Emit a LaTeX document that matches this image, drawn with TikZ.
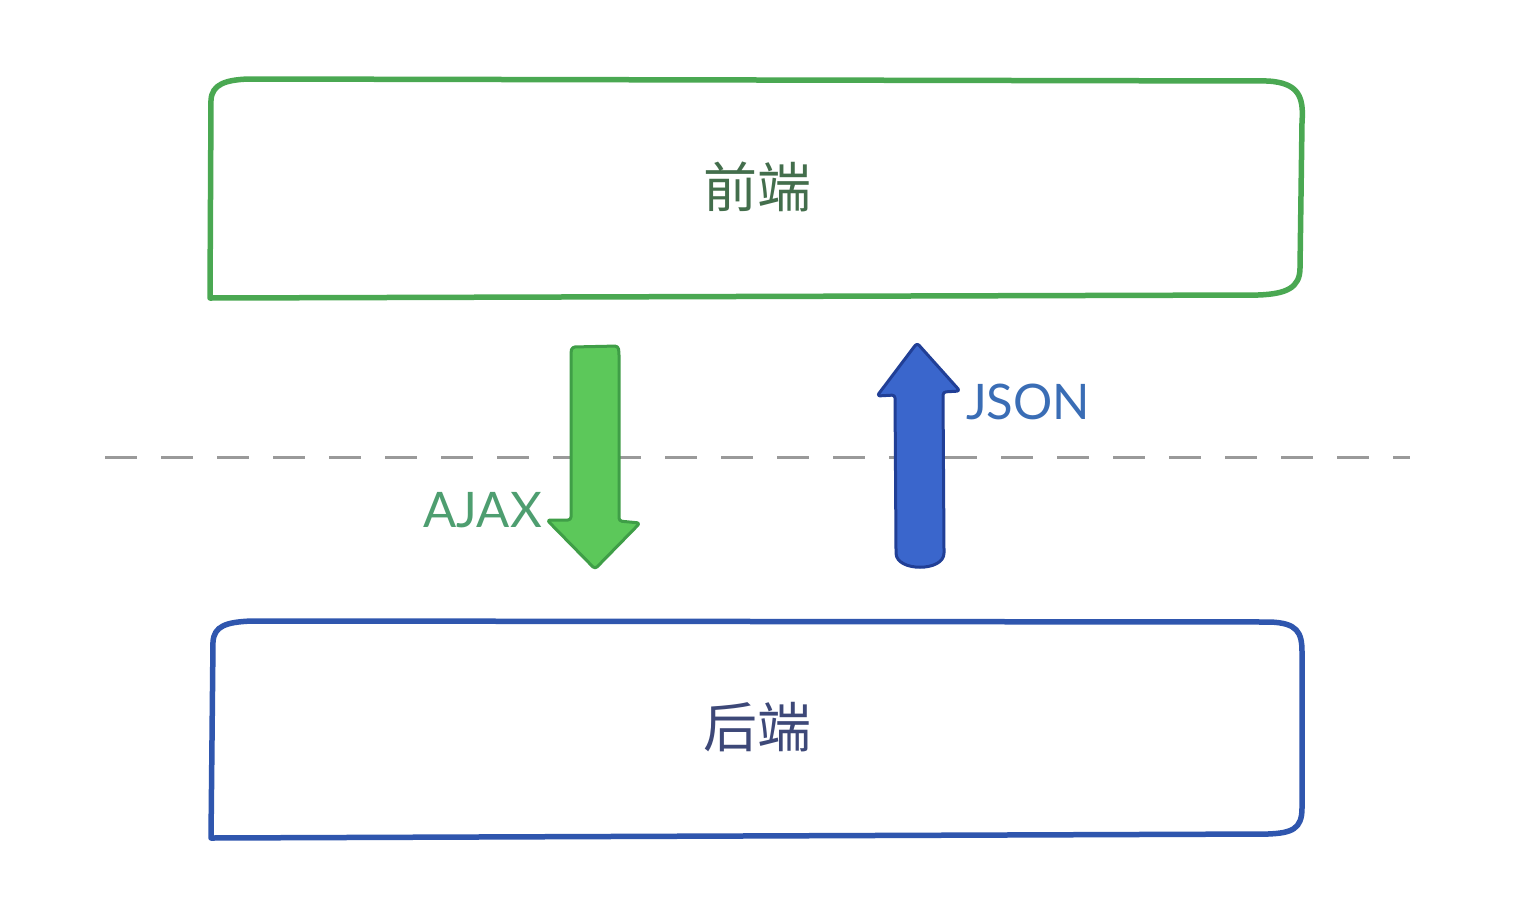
\documentclass[tikz,border=0pt]{standalone}
\usepackage{fontspec}
\newfontfamily\cjk{Noto Sans CJK SC}
\newfontfamily\latinlab{Lato}
\definecolor{gline}{HTML}{4AA852}
\definecolor{gfill}{HTML}{5CC85A}
\definecolor{gedge}{HTML}{3F9E47}
\definecolor{gtext}{HTML}{436E4C}
\definecolor{bline}{HTML}{2F56AE}
\definecolor{bfill}{HTML}{3A66CC}
\definecolor{bedge}{HTML}{213F96}
\definecolor{btext}{HTML}{3D4878}
\definecolor{ajaxc}{HTML}{4E9E70}
\definecolor{jsonc}{HTML}{3A6DB5}
\definecolor{dashc}{HTML}{9A9A9A}
\tikzset{
  boxline/.style={line width=5.5pt, line join=round},
  boxtext/.style={font=\cjk\fontsize{54}{60}\selectfont, inner sep=0pt},
  labtext/.style={font=\latinlab\fontsize{49}{54}\selectfont, inner sep=0pt},
  fatarrow/.style={line width=3pt, line join=round, rounded corners=3pt},
  divider/.style={dashc, line width=3pt, dash pattern=on 32pt off 24pt}
}
\begin{document}
\begin{tikzpicture}[x=1pt,y=-1pt]
\useasboundingbox[fill=white] (0,0) rectangle (1536,916);
% front-end box
\draw[boxline, gline] (210,298) -- (211,100) .. controls (212,84) and (226,80) .. (248,79)
  -- (1268,81) .. controls (1298,83) and (1304,96) .. (1302,122)
  -- (1300,268) .. controls (1300,288) and (1286,294) .. (1258,295) -- cycle;
\node[boxtext, text=gtext] (front) at (757,187) {前端};
% back-end box
\draw[boxline, bline] (211,838) -- (213,642) .. controls (214,626) and (226,622) .. (252,621)
  -- (1270,622) .. controls (1297,623) and (1302,632) .. (1302,652)
  -- (1302,808) .. controls (1302,829) and (1292,833) .. (1268,834) -- cycle;
\node[boxtext, text=btext] (back) at (757,727) {后端};
% dashed divider
\coordinate (dl) at (105,457);
\coordinate (dr) at (1410,457);
\draw[divider] (dl) -- (dr);
% AJAX arrow (down)
\coordinate (ajaxtip) at (595,569);
\draw[fatarrow, gedge, fill=gfill] (571,352) -- (572,347) -- (618,346) -- (619,352) -- (619,521)
  -- (640,523) -- (ajaxtip) -- (547,520) -- (571,520) -- cycle;
\node[labtext, text=ajaxc, anchor=base east] (ajax) at (542,527) {AJAX};
% JSON arrow (up)
\coordinate (jsontip) at (917,343);
\draw[fatarrow, bedge, fill=bfill] (jsontip) -- (960,391) -- (943,392) -- (944,550)
  .. controls (944,572) and (896,572) .. (896,550) -- (895,395) -- (877,396) -- cycle;
\node[labtext, text=jsonc, anchor=base west] (json) at (966,419) {JSON};
\end{tikzpicture}
\end{document}
